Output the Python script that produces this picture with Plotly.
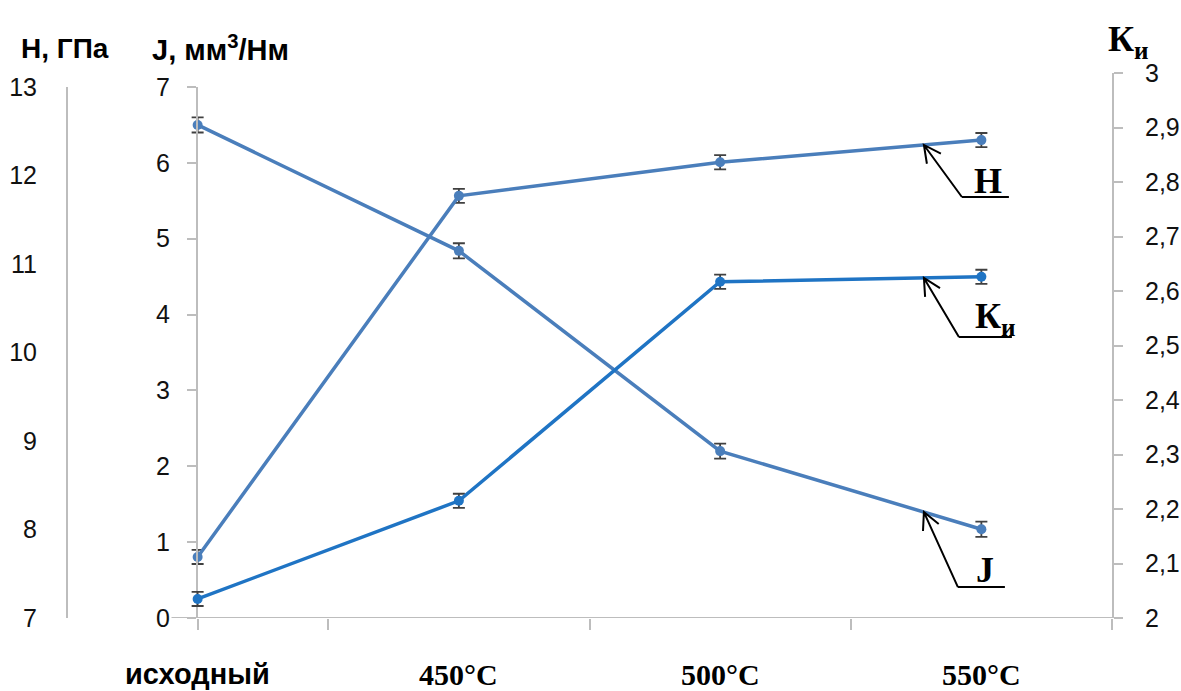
import math
import plotly.graph_objects as go

# ---- data ----
categories = ["исходный", "450°C", "500°C", "550°C"]
H_values = [7.69, 11.77, 12.15, 12.40]      # ГПа
J_values = [6.50, 4.84, 2.20, 1.17]         # мм3/Нм
K_values = [2.035, 2.215, 2.617, 2.626]     # Ки
H_err = [0.08, 0.08, 0.08, 0.08]
J_err = [0.10, 0.10, 0.10, 0.10]
K_err = [0.013, 0.013, 0.013, 0.013]
H_ticks = [7, 8, 9, 10, 11, 12, 13]
J_ticks = [0, 1, 2, 3, 4, 5, 6, 7]
K_ticks = [2.0, 2.1, 2.2, 2.3, 2.4, 2.5, 2.6, 2.7, 2.8, 2.9, 3.0]

xpos = list(range(len(categories)))

STEEL = "#4A7EBB"
BLUE = "#1F74C4"
AXIS = "#BDBDBD"
ERR = "#404040"
SANS = "Liberation Sans, Arial, sans-serif"
SERIF = "Liberation Serif, Times New Roman, serif"

W, HGT = 1181, 691
ML, MR, MT, MB = 67, 69, 73, 73
PW, PH = W - ML - MR, HGT - MT - MB


def px(xp):
    return (xp - ML) / PW


def py(yp):
    return (HGT - MB - yp) / PH


fig = go.Figure()


def err(a):
    return dict(type="data", array=a, color=ERR, thickness=1.8, width=6)


fig.add_trace(go.Scatter(x=xpos, y=H_values, yaxis="y2", mode="lines+markers",
                         line=dict(color=STEEL, width=3.5), marker=dict(size=10, color=STEEL),
                         error_y=err(H_err), showlegend=False, name="H"))
fig.add_trace(go.Scatter(x=xpos, y=J_values, yaxis="y", mode="lines+markers",
                         line=dict(color=STEEL, width=3.5), marker=dict(size=10, color=STEEL),
                         error_y=err(J_err), showlegend=False, name="J"))
fig.add_trace(go.Scatter(x=xpos, y=K_values, yaxis="y3", mode="lines+markers",
                         line=dict(color=BLUE, width=3.5), marker=dict(size=10, color=BLUE),
                         error_y=err(K_err), showlegend=False, name="Ки"))

left_top = py(87)

fig.update_layout(
    width=W, height=HGT,
    margin=dict(l=ML, r=MR, t=MT, b=MB, autoexpand=False),
    paper_bgcolor="white", plot_bgcolor="rgba(0,0,0,0)",
    xaxis=dict(range=[-0.5, 3.5], domain=[0, 1], anchor="y", showline=False, automargin=False,
               showgrid=False, zeroline=False, showticklabels=False, ticks="",
               tickmode="array", tickvals=xpos,
               minor=dict(tickmode="array", tickvals=[0, 0.5, 1.5, 2.5, 3.5],
                          ticks="outside", ticklen=11, tickcolor=AXIS, tickwidth=1.5)),
    yaxis=dict(range=[0, 7], domain=[0, left_top], anchor="free", position=px(197),
               automargin=False,
               showline=True, linecolor=AXIS, linewidth=2, showgrid=False, zeroline=False,
               tickmode="array", tickvals=J_ticks, ticks="outside", ticklen=9,
               tickcolor=AXIS, tickwidth=1.5, ticklabelstandoff=12,
               tickfont=dict(family=SANS, size=25, color="#111")),
    yaxis2=dict(range=[7, 13], overlaying="y", anchor="free", position=0, side="left",
                automargin=False,
                showline=True, linecolor=AXIS, linewidth=2, showgrid=False, zeroline=False,
                tickmode="array", tickvals=H_ticks, ticks="", ticklabelstandoff=24,
                tickfont=dict(family=SANS, size=25, color="#111")),
    yaxis3=dict(range=[2, 3], domain=[0, 1], anchor="x", side="right", automargin=False,
                showline=True, linecolor=AXIS, linewidth=2, showgrid=False, zeroline=False,
                tickmode="array", tickvals=K_ticks,
                ticktext=[("%g" % v).replace(".", ",") for v in K_ticks],
                ticks="outside", ticklen=9, tickcolor=AXIS, tickwidth=1.5,
                ticklabelstandoff=17,
                tickfont=dict(family=SANS, size=25, color="#111")),
)

# x axis line
fig.add_shape(type="line", xref="x", yref="y", x0=-0.1, x1=3.5, y0=0, y1=0,
              line=dict(color=AXIS, width=2), layer="below")

annotations = []
# category labels
for i, c in enumerate(categories):
    if i == 0:
        fnt = dict(family=SANS, size=29, color="black")
    else:
        fnt = dict(family=SERIF, size=30, color="black")
    annotations.append(dict(x=i, y=0, xref="x", yref="paper", text="<b>%s</b>" % c,
                            showarrow=False, yanchor="middle", yshift=-56, font=fnt))

# axis titles
annotations.append(dict(x=px(65), y=py(48), xref="paper", yref="paper",
                        xanchor="center", yanchor="middle", showarrow=False,
                        text="<b>Н, ГПа</b>", font=dict(family=SANS, size=28, color="black")))
annotations.append(dict(x=px(221), y=py(48), xref="paper", yref="paper",
                        xanchor="center", yanchor="middle", showarrow=False,
                        text="<b>J, мм<sup>3</sup>/Нм</b>", font=dict(family=SANS, size=29, color="black")))
annotations.append(dict(x=px(1128), y=py(42), xref="paper", yref="paper",
                        xanchor="center", yanchor="middle", showarrow=False,
                        text="<b>К<sub>и</sub></b>", font=dict(family=SERIF, size=36, color="black")))

# leader arrows with labels
x_tip = 2.78
frac = x_tip - 2


def interp(vals):
    return vals[2] + (vals[3] - vals[2]) * frac


leaders = [
    ("y2", interp(H_values), "<b>Н</b>", (38, -52), 85, (64, -36)),
    ("y3", interp(K_values), "<b>К<sub>и</sub></b>", (35, -59), 88, (72, -41)),
    ("y", interp(J_values), "<b>J</b>", (34, -75), 81, (61, -58)),
]
for yref, ytip, label, (tx, ty), ux, (lx, ly) in leaders:
    L = math.hypot(tx, ty)
    uxn, uyn = tx / L, ty / L
    th = math.radians(27)
    wl = 19
    w1 = (wl * (uxn * math.cos(th) - uyn * math.sin(th)), wl * (uxn * math.sin(th) + uyn * math.cos(th)))
    w2 = (wl * (uxn * math.cos(-th) - uyn * math.sin(-th)), wl * (uxn * math.sin(-th) + uyn * math.cos(-th)))
    path = (f"M {tx},{ty} L 0,0 M {w1[0]:.1f},{w1[1]:.1f} L 0,0 L {w2[0]:.1f},{w2[1]:.1f} "
            f"M {tx},{ty} L {ux},{ty}")
    fig.add_shape(type="path", path=path, xref="x", yref=yref, xsizemode="pixel",
                  ysizemode="pixel", xanchor=x_tip, yanchor=ytip,
                  line=dict(color="black", width=2))
    annotations.append(dict(x=x_tip, y=ytip, xref="x", yref=yref, text=label, showarrow=False,
                            xshift=lx, yshift=ly, xanchor="center", yanchor="middle",
                            font=dict(family=SERIF, size=36, color="black")))

fig.update_layout(annotations=annotations)

fig.write_html("out.html", config={"displayModeBar": False},
               post_script="document.body.style.margin='0px';document.body.style.overflow='hidden';")
